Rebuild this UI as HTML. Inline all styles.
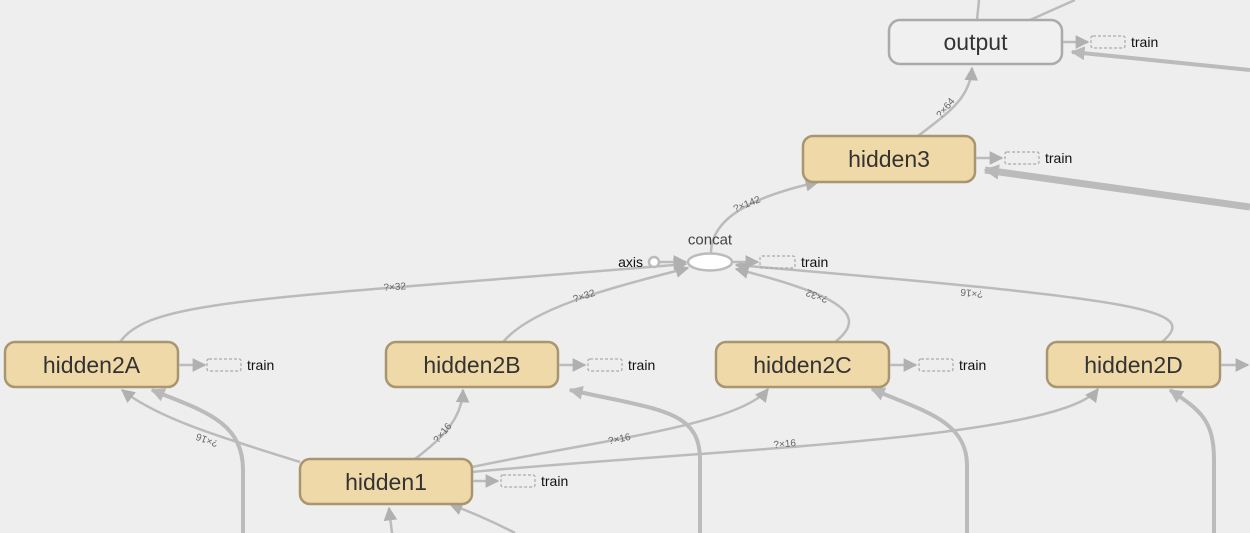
<!DOCTYPE html>
<html><head><meta charset="utf-8"><style>
html,body{margin:0;padding:0;background:#eeeeee;}
svg{display:block;font-family:"Liberation Sans",sans-serif;}
.n{fill:#f0d9a8;stroke:#a89670;stroke-width:2.5;}
.t{font-size:23px;fill:#333;text-anchor:middle;dominant-baseline:central;}
.e{fill:none;stroke:#bbbbbb;stroke-width:2.5;}
.E{fill:none;stroke:#bbbbbb;stroke-width:4;}
.tb{fill:none;stroke:#aaa;stroke-width:1.2;stroke-dasharray:3,2;}
.tr{font-size:14px;fill:#111;dominant-baseline:central;}
.l{font-size:10px;fill:#666;text-anchor:middle;}
</style></head><body>
<svg width="1250" height="533" viewBox="0 0 1250 533">
<defs>
<marker id="a" viewBox="0 0 10 10" refX="9" refY="5" markerWidth="5.5" markerHeight="5.5" orient="auto"><path d="M0,0L10,5L0,10z" fill="#b0b0b0"/></marker>
<marker id="A" viewBox="0 0 10 10" refX="9" refY="5" markerWidth="3.5" markerHeight="3.5" orient="auto"><path d="M0,0L10,5L0,10z" fill="#b8b8b8"/></marker>
<marker id="B" viewBox="0 0 10 10" refX="9" refY="5" markerWidth="2.2" markerHeight="2.2" orient="auto"><path d="M0,0L10,5L0,10z" fill="#b8b8b8"/></marker>
</defs>
<rect width="1250" height="533" fill="#eeeeee"/>

<path class="e" d="M979,0 L977,20"/>
<path class="e" d="M1075,0 L1030,20"/>
<path class="e" style="stroke-width:4" d="M1250,70 L1072,52" marker-end="url(#A)"/>
<path class="e" style="stroke-width:7" d="M1250,207 L985,170" marker-end="url(#B)"/>

<path class="e" d="M918,136 C945,115 970,100 972,68" marker-end="url(#a)"/>
<text class="l" transform="translate(948,110) rotate(-50)">?×64</text>
<path class="e" d="M711,253 C711,215 760,195 818,182" marker-end="url(#a)"/>
<text class="l" transform="translate(748,207) rotate(-22)">?×142</text>

<path class="e" d="M120,342 C150,300 250,300 686,264" marker-end="url(#a)"/>
<text class="l" transform="translate(395,290) rotate(-4)">?×32</text>
<path class="e" d="M503,342 C530,310 600,290 688,268" marker-end="url(#a)"/>
<text class="l" transform="translate(585,299) rotate(-18)">?×32</text>
<path class="e" d="M835,342 C870,315 840,295 736,269" marker-end="url(#a)"/>
<text class="l" transform="translate(818,293) rotate(200)">?×32</text>
<path class="e" d="M1162,342 C1200,310 1150,300 736,265" marker-end="url(#a)"/>
<text class="l" transform="translate(972,290) rotate(186)">?×16</text>

<circle cx="654" cy="262" r="5" fill="#fff" stroke="#bbb" stroke-width="2.5"/>
<path class="e" d="M660,262 L686,262" marker-end="url(#a)"/>
<text x="643" y="262" class="tr" text-anchor="end">axis</text>
<ellipse cx="710" cy="262" rx="22" ry="8.5" fill="#fff" stroke="#bbb" stroke-width="2.5"/>
<text x="710" y="240" font-size="15" fill="#444" text-anchor="middle" dominant-baseline="central">concat</text>
<path class="e" d="M733,262 L758,262" marker-end="url(#a)"/>
<rect class="tb" x="760" y="256" width="35" height="12" rx="2"/>
<text x="801" y="262" class="tr">train</text>

<path class="e" d="M300,462 C230,440 160,420 122,390" marker-end="url(#a)"/>
<text class="l" transform="translate(208,437) rotate(200)">?×16</text>
<path class="e" d="M415,459 C440,440 462,420 463,390" marker-end="url(#a)"/>
<text class="l" transform="translate(445,435) rotate(-50)">?×16</text>
<path class="e" d="M472,467 C600,440 740,425 768,389" marker-end="url(#a)"/>
<text class="l" transform="translate(620,442) rotate(-12)">?×16</text>
<path class="e" d="M472,472 C700,450 1060,440 1098,389" marker-end="url(#a)"/>
<text class="l" transform="translate(785,447) rotate(-5)">?×16</text>

<path class="E" d="M243,533 L243,470 C243,420 200,410 152,390" marker-end="url(#A)"/>
<path class="E" d="M700,533 L700,460 C700,410 660,410 570,390" marker-end="url(#A)"/>
<path class="E" d="M967,533 L967,465 C967,420 920,410 872,389" marker-end="url(#A)"/>
<path class="E" d="M1214,533 L1214,460 C1214,420 1200,410 1170,390" marker-end="url(#A)"/>
<path class="e" d="M392,533 L389,508" marker-end="url(#a)"/>
<path class="e" d="M515,533 C490,520 470,512 450,504" marker-end="url(#a)"/>

<rect x="889" y="20" width="173" height="44" rx="11" fill="#f0f0f0" stroke="#aaa" stroke-width="2.5"/>
<text class="t" x="975.5" y="42">output</text>
<path class="e" d="M1063,42 L1088,42" marker-end="url(#a)"/>
<rect class="tb" x="1091" y="36" width="34" height="12" rx="2"/>
<text x="1131" y="42" class="tr">train</text>

<rect class="n" x="803" y="136" width="172" height="46" rx="10"/>
<text class="t" x="889" y="159">hidden3</text>
<path class="e" d="M976,158 L1002,158" marker-end="url(#a)"/>
<rect class="tb" x="1005" y="152" width="34" height="12" rx="2"/>
<text x="1045" y="158" class="tr">train</text>

<rect class="n" x="5" y="342" width="173" height="45" rx="10"/>
<text class="t" x="91.5" y="365">hidden2A</text>
<path class="e" d="M179,365 L205,365" marker-end="url(#a)"/>
<rect class="tb" x="207" y="359" width="34" height="12" rx="2"/>
<text x="247" y="365" class="tr">train</text>

<rect class="n" x="386" y="342" width="172" height="45" rx="10"/>
<text class="t" x="472" y="365">hidden2B</text>
<path class="e" d="M559,365 L585,365" marker-end="url(#a)"/>
<rect class="tb" x="588" y="359" width="34" height="12" rx="2"/>
<text x="628" y="365" class="tr">train</text>

<rect class="n" x="716" y="342" width="173" height="45" rx="10"/>
<text class="t" x="802.5" y="365">hidden2C</text>
<path class="e" d="M890,365 L916,365" marker-end="url(#a)"/>
<rect class="tb" x="919" y="359" width="34" height="12" rx="2"/>
<text x="959" y="365" class="tr">train</text>

<rect class="n" x="1047" y="342" width="173" height="45" rx="10"/>
<text class="t" x="1133.5" y="365">hidden2D</text>
<path class="e" d="M1221,365 L1248,365" marker-end="url(#a)"/>

<rect class="n" x="300" y="459" width="172" height="45" rx="10"/>
<text class="t" x="386" y="482">hidden1</text>
<path class="e" d="M473,481 L498,481" marker-end="url(#a)"/>
<rect class="tb" x="501" y="475" width="34" height="12" rx="2"/>
<text x="541" y="481" class="tr">train</text>
</svg>
</body></html>
